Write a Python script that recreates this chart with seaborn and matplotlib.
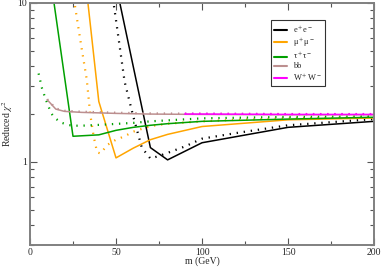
import numpy as np
import pandas as pd
import matplotlib
matplotlib.use("Agg")
import matplotlib.pyplot as plt
import seaborn as sns
from matplotlib.ticker import LogLocator, NullFormatter, FixedLocator

# --- data (m in GeV, reduced chi^2) ---
ee_m = [50, 70, 80, 100, 150, 200]
ee_chi = [13.0, 1.23, 1.03, 1.32, 1.65, 1.80]
ee_dot_m = [45, 50, 55, 60, 65, 70, 75, 80, 90, 100, 120, 150, 200]
ee_dot_chi = [18.7, 7.8, 3.2, 1.94, 1.23, 1.05, 1.09, 1.14, 1.25, 1.40, 1.52, 1.70, 1.86]

mu_m = [30, 40, 50, 60, 70, 80, 100, 150, 200]
mu_chi = [23.0, 2.4, 1.06, 1.22, 1.38, 1.49, 1.67, 1.84, 1.89]
mu_dot_m = [25, 30, 33, 35, 37, 39, 41, 45, 50, 55, 60, 70, 80, 100, 120, 150, 200]
mu_dot_chi = [11.5, 5.2, 3.3, 2.0, 1.45, 1.15, 1.13, 1.28, 1.38, 1.45, 1.55, 1.68, 1.74, 1.80, 1.84, 1.88, 1.91]

tau_m = [10, 25, 40, 50, 60, 70, 80, 100, 150, 200]
tau_chi = [20.0, 1.45, 1.48, 1.58, 1.65, 1.70, 1.74, 1.80, 1.86, 1.91]
tau_dot_m = [5, 7, 9, 11, 13, 15, 18, 22, 25, 30, 40, 60, 70, 100, 150, 200]
tau_dot_chi = [3.6, 2.9, 2.5, 2.2, 1.98, 1.87, 1.77, 1.71, 1.69, 1.69, 1.71, 1.76, 1.80, 1.88, 1.92, 1.94]

bb_m = [10, 15, 20, 30, 50, 70, 100, 150, 200]
bb_chi = [2.46, 2.15, 2.08, 2.05, 2.02, 2.00, 1.99, 1.98, 1.98]
bb_dot_chi = [2.48, 2.17, 2.10, 2.07, 2.04, 2.02, 2.01, 2.00, 2.00]

ww_m = [90, 100, 150, 200]
ww_chi = [2.00, 2.00, 1.99, 1.99]
ww_dot_chi = [2.01, 2.01, 2.00, 2.00]

labels = [r'e$^+$e$^-$', r'μ$^+$μ$^-$', r'τ$^+$τ$^-$', 'bb', r'W$^+$W$^-$']
colors = ['black', '#FFA500', '#00A000', '#BC8F8F', '#FF00FF']

sns.set_style("ticks")
plt.rcParams['font.family'] = ['Liberation Serif', 'DejaVu Serif']
plt.rcParams['mathtext.fontset'] = 'stix'

fig = plt.figure(figsize=(3.82, 2.67), dpi=100)
ax = fig.add_axes([30 / 382, 22 / 267, 344 / 382, 242 / 267])

solid = [(ee_m, ee_chi), (mu_m, mu_chi), (tau_m, tau_chi), (bb_m, bb_chi), (ww_m, ww_chi)]
dotted = [(ee_dot_m, ee_dot_chi), (mu_dot_m, mu_dot_chi), (tau_dot_m, tau_dot_chi),
          (bb_m, bb_dot_chi), (ww_m, ww_dot_chi)]

handles = []
for (m, c), (dm, dc), lab, col in zip(solid, dotted, labels, colors):
    sns.lineplot(x=dm, y=dc, ax=ax, color=col, lw=1.6, linestyle=(0, (0.6, 2.6)),
                 dash_capstyle='butt', estimator=None, sort=False)
    sns.lineplot(x=m, y=c, ax=ax, color=col, lw=1.1, estimator=None, sort=False)
    handles.append(plt.Line2D([], [], color=col, lw=1.5))

ax.set_yscale('log')
ax.set_xlim(0, 200)
ax.set_ylim(0.3, 10)

ax.xaxis.set_major_locator(FixedLocator([0, 50, 100, 150, 200]))
ax.xaxis.set_minor_locator(FixedLocator([25, 75, 125, 175]))
ax.yaxis.set_major_locator(FixedLocator([1, 10]))
ax.yaxis.set_minor_locator(LogLocator(base=10, subs=np.arange(2, 10)))
ax.yaxis.set_minor_formatter(NullFormatter())
ax.set_yticklabels(['1', '10'])

ax.tick_params(which='both', direction='in', top=True, right=True, labelsize=7,
               color='#555555', pad=2)
ax.tick_params(which='major', length=5, width=0.8)
ax.tick_params(which='minor', length=3, width=0.8)
for s in ax.spines.values():
    s.set_color('#808080')
    s.set_linewidth(1.4)

ax.set_xlabel('m (GeV)', fontsize=7, labelpad=0)
ax.set_ylabel(r'Reduced $\chi^2$', fontsize=7, labelpad=2)

leg = ax.legend(handles, labels, loc='upper left', bbox_to_anchor=(0.7006, 0.93),
                borderaxespad=0, fontsize=6, handlelength=1.5, handletextpad=0.7,
                labelspacing=0.12, frameon=True, fancybox=False, borderpad=0.4)
leg.get_frame().set_edgecolor('black')
leg.get_frame().set_linewidth(0.8)

fig.savefig('out.png', dpi=100)
